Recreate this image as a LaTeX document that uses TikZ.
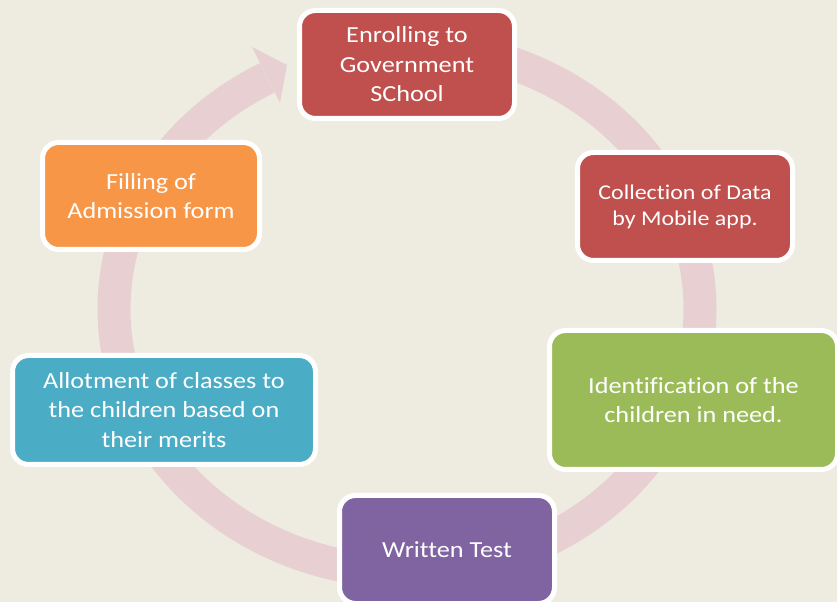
\documentclass[tikz,border=0pt]{standalone}
\usepackage{fontspec}
\setmainfont[FakeStretch=1.14,Ligatures={NoCommon}]{Carlito}
\definecolor{bgc}{HTML}{EEECE1}
\definecolor{ringc}{HTML}{E8D0D2}
\definecolor{redc}{HTML}{C0504D}
\definecolor{greenc}{HTML}{9BBB59}
\definecolor{purplec}{HTML}{8064A2}
\definecolor{bluec}{HTML}{4BACC6}
\definecolor{orangec}{HTML}{F79646}
\begin{document}
\begin{tikzpicture}[x=1pt,y=1pt,
  stagebox/.style={draw=white, line width=5pt, rounded corners=16pt, text=white,
    align=center, inner sep=0pt, font=\fontsize{23}{29.5}\selectfont},
  ringband/.style={draw=ringc, line width=33pt}]
\useasboundingbox (0,0) rectangle (837,602);
\fill[bgc] (0,0) rectangle (837,602);
% ring
\draw[ringband] (407,556) arc[start angle=90, end angle=-241.5, x radius=293pt, y radius=263pt];
\fill[ringc] (252,555) -- (287,537) -- (280,499) -- cycle;
% boxes
\node[stagebox, fill=redc, minimum width=215pt, minimum height=108pt] (enrol) at (407,537.5) {Enrolling to\\Government\\SChool};
\node[stagebox, fill=redc, minimum width=215pt, minimum height=108pt, font=\fontsize{21}{26}\selectfont] (collect) at (685,395.5) {Collection of Data\\by Mobile app.};
\node[stagebox, fill=greenc, minimum width=288pt, minimum height=139pt] (ident) at (693.5,202) {Identification of the\\children in need.};
\node[stagebox, fill=purplec, minimum width=215pt, minimum height=108pt] (test) at (447,52.5) {Written Test};
\node[stagebox, fill=bluec, minimum width=303pt, minimum height=109pt] (allot) at (164,192) {Allotment of classes to\\the children based on\\their merits};
\node[stagebox, fill=orangec, minimum width=217pt, minimum height=107pt] (fill) at (151,406) {Filling of\\Admission form};
\end{tikzpicture}
\end{document}
